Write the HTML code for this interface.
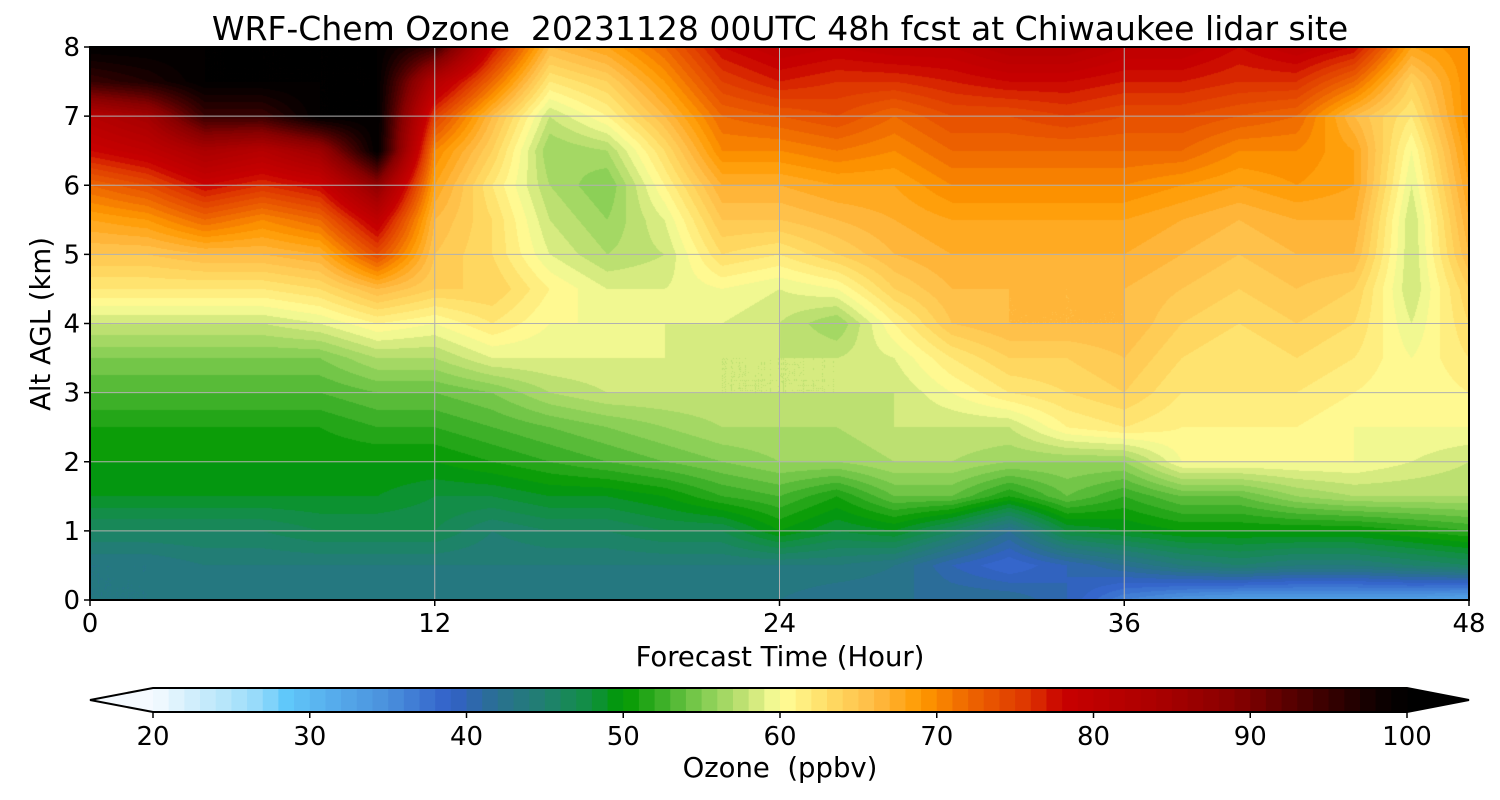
<!DOCTYPE html>
<html><head><meta charset="utf-8"><style>
body{margin:0;background:#fff;width:1500px;height:800px;overflow:hidden;font-family:"DejaVu Sans","Liberation Sans",sans-serif}
#wrap{position:relative;width:1500px;height:800px}
canvas{position:absolute;left:90px;top:47px}
svg{position:absolute;left:0;top:0}
text{font-family:"DejaVu Sans","Liberation Sans",sans-serif;fill:#000;white-space:pre}
</style></head><body>
<div id="wrap">
<canvas id="cv" width="1379" height="553"></canvas>
<svg id="sv" width="1500" height="800"></svg>
</div>
<script>
const times=[0,2,4,6,8,10,12,14,16,18,20,22,24,26,28,30,32,34,36,38,40,42,44,46,48];
const alts=[0,0.5,1,1.5,2,2.5,3,3.5,4,4.5,5,5.5,6,6.5,7,7.5,8];
const ozone=[
[43,43,46,49,50,51,53,55,58,62,65,68,72,78,82,95,100],
[43,43,46,49,50,51,53,55,58,62,65,69,74,80,85,97,100],
[44,44,46,49,50,51,53,55,58,62,66,72,78,84,95,100,100],
[43,44,46,49,50,51,53,55,58,62,66,70,76,82,95,100,100],
[43,44,47,49,50,51,53,55,59,63,67,72,78,86,100,100,100],
[43,44,47,49,50,52,54,57,61,66,74,80,88,100,100,100,100],
[43,44,47,48,50,52,54,57,60,64,65,66,68,70,75,82,95],
[43,44,45,48,51,53,55,59,62,64,63,63,62,64,66,72,78],
[43,44,46,49,52,54,57,59,60,61,59,58,57,56,58,62,66],
[43,44,46,49,53,55,58,59,60,59,57,56,55,57,61,64,68],
[43,44,47,50,54,56,58,59,59,59,58,59,61,63,66,69,72],
[43,44,47,52,55,57,58,58,59,60,63,65,67,70,72,75,78],
[43,44,50,53,56,57,58,58,58,59,62,65,67,70,73,77,80],
[42,44,48,51,56,57,58,58,56,60,64,66,68,71,74,76,79],
[42,43,49,54,57,58,58,59,61,64,66,67,68,70,72,76,80],
[42,40,46,54,57,58,60,62,65,66,67,68,70,72,74,77,80],
[42,38,42,51,56,58,62,64,66,66,67,68,70,72,74,78,82],
[40,40,48,54,56,61,63,64,66,66,67,68,70,72,75,78,82],
[36,42,49,52,56,62,64,65,66,66,67,68,70,72,74,77,80],
[34,44,50,54,60,61,62,63,64,65,66,67,69,72,74,77,80],
[33,45,50,54,60,61,62,62,63,64,65,66,68,70,73,76,78],
[33,44,50,56,60,61,62,63,64,65,66,67,69,70,72,76,80],
[33,44,50,57,60,60,61,62,63,64,66,67,68,68,66,72,78],
[33,45,51,57,59,60,60,60,59,58,58,58,59,60,62,64,68],
[32,46,52,57,58,60,61,62,63,64,66,67,68,69,70,70,70]];
const xTicks=[0,12,24,36,48];
const yTicks=[0,1,2,3,4,5,6,7,8];
const cbTicks=[20,30,40,50,60,70,80,90,100];
const stops=[[20,"#f5faff"],[22,"#d8f0fc"],[25,"#b0e4fa"],[27,"#90d8fa"],[28.5,"#60c8fa"],[31,"#58b0ee"],[35,"#4a90dc"],[39,"#3260c8"],[42,"#2a7090"],[45,"#208070"],[48,"#109040"],[50,"#009900"],[52,"#30aa20"],[55,"#80cc50"],[58,"#c8e478"],[60,"#ffff99"],[63,"#ffdd66"],[66,"#ffbb44"],[69,"#ff9900"],[72,"#ee6600"],[76,"#dd3300"],[78,"#c80000"],[84,"#aa0000"],[89,"#880000"],[94,"#440000"],[98,"#100000"],[100,"#000000"]];
const X0=90,X1=1469,Y0=47,Y1=600,CB0=153,CB1=1407;
const sx=t=>X0+(t-0)/48*(X1-X0), sy=a=>Y1-a/8*(Y1-Y0), sc=v=>CB0+(v-20)/80*(CB1-CB0);
function hex(h){return [parseInt(h.substr(1,2),16),parseInt(h.substr(3,2),16),parseInt(h.substr(5,2),16)];}
function col(v){v=Math.max(20,Math.min(100,v));for(let i=1;i<stops.length;i++){if(v<=stops[i][0]){const a=stops[i-1],b=stops[i],f=(v-a[0])/(b[0]-a[0]);const c1=hex(a[1]),c2=hex(b[1]);return c1.map((c,k)=>Math.round(c+(c2[k]-c)*f));}}return [0,0,0];}
function q(v){return Math.floor(v)+0.5;}
function val(t,a){let i=Math.min(times.length-2,Math.max(0,Math.floor(t/2)));let j=Math.min(alts.length-2,Math.max(0,Math.floor(a/0.5)));const ft=(t-times[i])/(times[i+1]-times[i]),fa=(a-alts[j])/(alts[j+1]-alts[j]);
return ozone[i][j]*(1-ft)*(1-fa)+ozone[i+1][j]*ft*(1-fa)+ozone[i][j+1]*(1-ft)*fa+ozone[i+1][j+1]*ft*fa;}
const cv=document.getElementById('cv'),ctx=cv.getContext('2d'),W=cv.width,H=cv.height,img=ctx.createImageData(W,H);
for(let y=0;y<H;y++){const a=8-(y+0.5)/H*8;for(let x=0;x<W;x++){const t=(x+0.5)/W*48;const c=col(q(val(t,a)));const p=(y*W+x)*4;img.data[p]=c[0];img.data[p+1]=c[1];img.data[p+2]=c[2];img.data[p+3]=255;}}
ctx.putImageData(img,0,0);
const NS="http://www.w3.org/2000/svg",sv=document.getElementById('sv');
function el(tag,at,txt){const e=document.createElementNS(NS,tag);for(const k in at)e.setAttribute(k,at[k]);if(txt!==undefined)e.textContent=txt;sv.appendChild(e);return e;}
xTicks.forEach(t=>{if(t>0&&t<48){const g=el('line',{x1:sx(t),x2:sx(t),y1:Y0,y2:Y1,stroke:'#b0b0b0','stroke-width':1});

}
const k=el('line',{x1:sx(t),x2:sx(t),y1:Y1,y2:Y1+6,stroke:'#000','stroke-width':1.5});


const l=el('text',{x:sx(t),y:632,'font-size':26,'text-anchor':'middle'},String(t));

});
yTicks.forEach(a=>{if(a>0&&a<8){const g=el('line',{x1:X0,x2:X1,y1:sy(a),y2:sy(a),stroke:'#b0b0b0','stroke-width':1});

}
const k=el('line',{x1:X0-6,x2:X0,y1:sy(a),y2:sy(a),stroke:'#000','stroke-width':1.5});


const l=el('text',{x:X0-10,y:sy(a)+9,'font-size':26,'text-anchor':'end'},String(a));

});
const fr=el('rect',{x:X0,y:Y0,width:X1-X0,height:Y1-Y0,fill:'none',stroke:'#000','stroke-width':2});


const ti=el('text',{x:780,y:40,'font-size':33,'text-anchor':'middle'},'WRF-Chem Ozone  20231128 00UTC 48h fcst at Chiwaukee lidar site');


const xl=el('text',{x:780,y:666,'font-size':27.5,'text-anchor':'middle'},'Forecast Time (Hour)');


const yl=el('text',{x:0,y:0,'font-size':27.5,'text-anchor':'middle',transform:'translate(50,324) rotate(-90)'},'Alt AGL (km)');


const CY0=688,CY1=712;
const lt=el('polygon',{points:`${CB0},${CY0} ${CB0},${CY1} 90,700`,fill:'#f5faff'});


const rt=el('polygon',{points:`${CB1},${CY0} ${CB1},${CY1} 1469,700`,fill:'#000'});


for(let v=20;v<100;v++){const c=col(v+0.5);const r=el('rect',{x:sc(v),y:CY0,width:sc(v+1)-sc(v)+0.6,height:CY1-CY0,fill:`rgb(${c})`});

}
const ol=el('polygon',{points:`90,700 ${CB0},${CY0} ${CB1},${CY0} 1469,700 ${CB1},${CY1} ${CB0},${CY1}`,fill:'none',stroke:'#000','stroke-width':2});


cbTicks.forEach(v=>{const k=el('line',{x1:sc(v),x2:sc(v),y1:CY1,y2:CY1+6,stroke:'#000','stroke-width':1.5});


const l=el('text',{x:sc(v),y:745,'font-size':26,'text-anchor':'middle'},String(v));

});
const cl=el('text',{x:780,y:777,'font-size':27.5,'text-anchor':'middle'},'Ozone  (ppbv)');


</script>
</body></html>
